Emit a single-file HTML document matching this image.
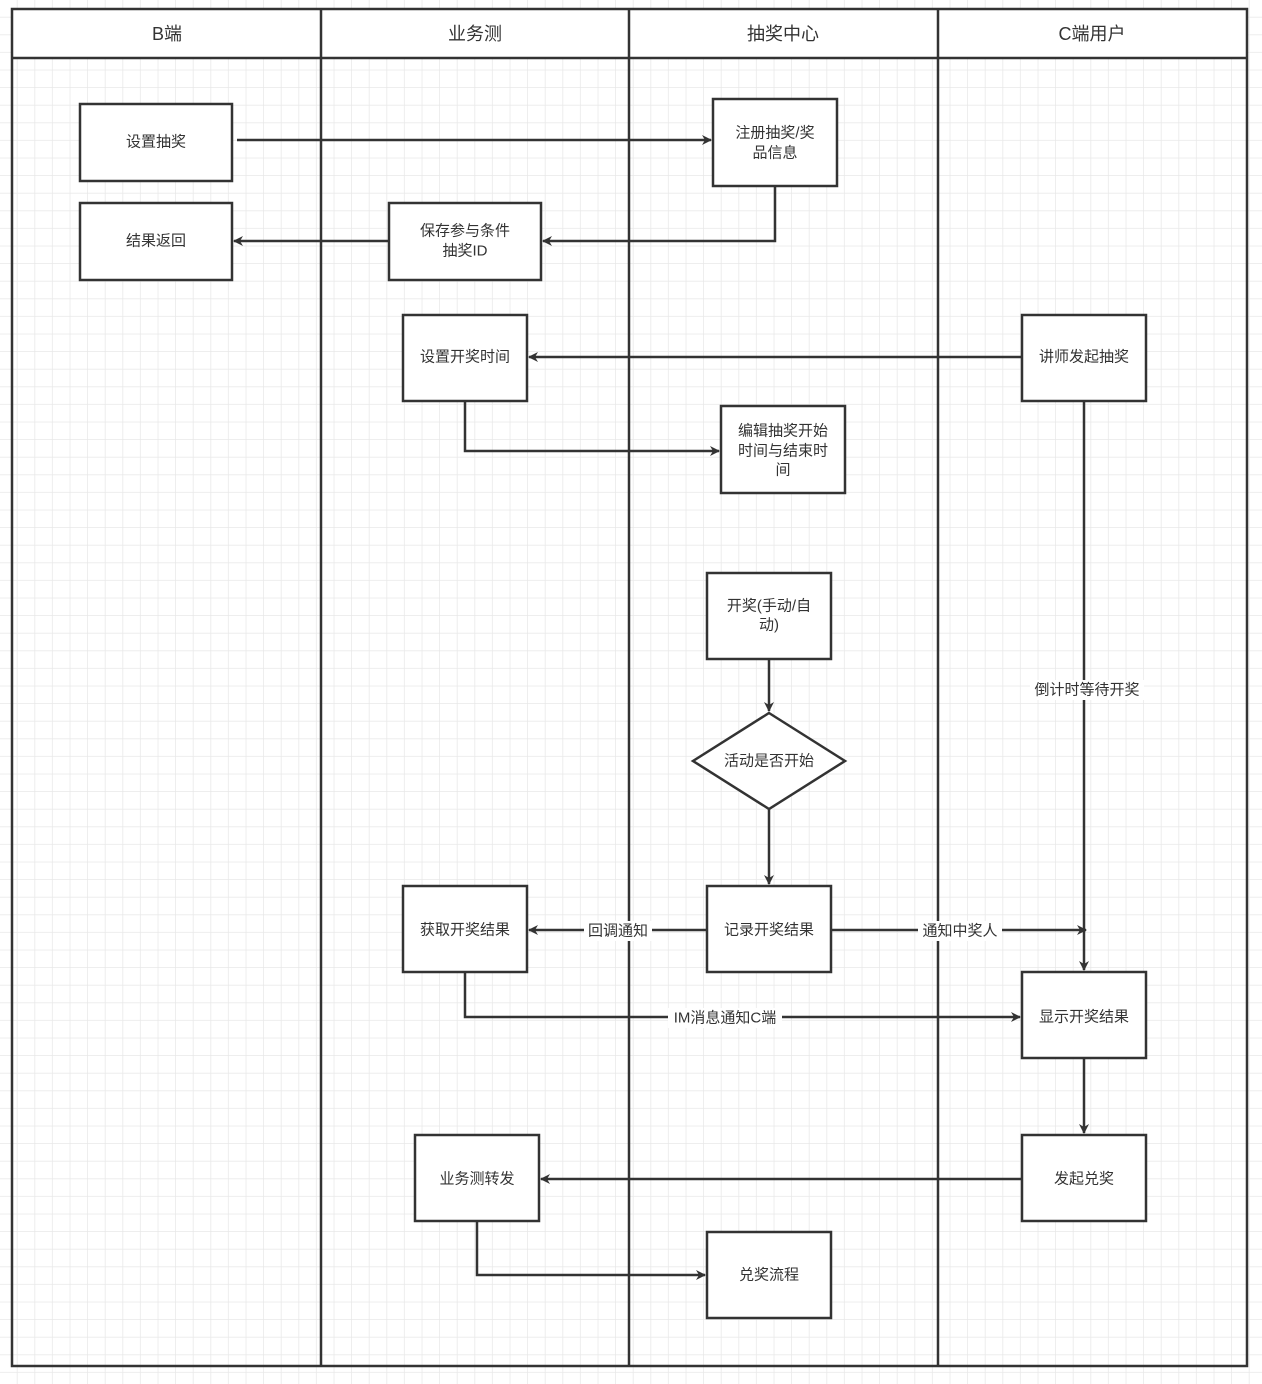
<!DOCTYPE html>
<html><head><meta charset="utf-8"><style>
html,body{margin:0;padding:0;background:#fff}
svg{display:block}
text{font-family:"Liberation Sans","Noto Sans CJK SC",sans-serif;font-size:15px;fill:#333;text-anchor:middle;dominant-baseline:central}
</style></head><body>
<svg width="1262" height="1384" viewBox="0 0 1262 1384" xmlns="http://www.w3.org/2000/svg">
<defs>
<pattern id="g" x="0" y="0" width="17.6" height="17.6" patternUnits="userSpaceOnUse">
<path d="M17.6 0V17.6M0 17.6H17.6" stroke="#e8e8e8" stroke-width="1.5" fill="none"/>
</pattern>
<marker id="a" markerWidth="10" markerHeight="10" refX="9" refY="5" orient="auto" markerUnits="userSpaceOnUse">
<path d="M0,0 L10,5 L0,10 L3,5 Z" fill="#333"/>
</marker>
</defs>
<rect width="1262" height="1384" fill="url(#g)"/>
<rect x="12" y="9" width="1235" height="49" fill="#fff"/>
<g stroke="#333" stroke-width="2.5" fill="none">
<rect x="12" y="9" width="1235" height="1357"/>
<line x1="12" y1="58" x2="1247" y2="58"/>
<line x1="321" y1="9" x2="321" y2="1366"/>
<line x1="629" y1="9" x2="629" y2="1366"/>
<line x1="938" y1="9" x2="938" y2="1366"/>
</g>
<text x="167" y="34" font-size="18" style="font-size:18px">B端</text>
<text x="475" y="34" style="font-size:18px">业务测</text>
<text x="783" y="34" style="font-size:18px">抽奖中心</text>
<text x="1092" y="34" style="font-size:18px">C端用户</text>

<g stroke="#333" stroke-width="2.5" fill="none" marker-end="url(#a)">
<path d="M237 140H711"/>
<path d="M775 186V241H543"/>
<path d="M389 241H234"/>
<path d="M1022 357H529"/>
<path d="M465 401V451H719"/>
<path d="M769 659V711"/>
<path d="M769 809V884"/>
<path d="M1084 401V970"/>
<path d="M707 930H529"/>
<path d="M831 930H1086"/>
<path d="M465 972V1017H1020"/>
<path d="M1084 1058V1133"/>
<path d="M1022 1179H541"/>
<path d="M477 1221V1275H705"/>
</g>

<g stroke="#333" stroke-width="2.5" fill="#fff">
<rect x="80" y="104" width="152" height="77"/>
<rect x="713" y="99" width="124" height="87"/>
<rect x="80" y="203" width="152" height="77"/>
<rect x="389" y="203" width="152" height="77"/>
<rect x="403" y="315" width="124" height="86"/>
<rect x="1022" y="315" width="124" height="86"/>
<rect x="721" y="406" width="124" height="87"/>
<rect x="707" y="573" width="124" height="86"/>
<polygon points="769,713 845,761 769,809 693,761"/>
<rect x="403" y="886" width="124" height="86"/>
<rect x="707" y="886" width="124" height="86"/>
<rect x="1022" y="972" width="124" height="86"/>
<rect x="415" y="1135" width="124" height="86"/>
<rect x="1022" y="1135" width="124" height="86"/>
<rect x="707" y="1232" width="124" height="86"/>
</g>

<text x="156" y="142">设置抽奖</text>
<text x="775" y="133">注册抽奖/奖</text>
<text x="775" y="153">品信息</text>
<text x="156" y="241">结果返回</text>
<text x="465" y="231">保存参与条件</text>
<text x="465" y="251">抽奖ID</text>
<text x="465" y="357">设置开奖时间</text>
<text x="1084" y="357">讲师发起抽奖</text>
<text x="783" y="431">编辑抽奖开始</text>
<text x="783" y="451">时间与结束时</text>
<text x="783" y="470">间</text>
<text x="769" y="606">开奖(手动/自</text>
<text x="769" y="625">动)</text>
<text x="769" y="761">活动是否开始</text>
<text x="465" y="930">获取开奖结果</text>
<text x="769" y="930">记录开奖结果</text>
<text x="1084" y="1017">显示开奖结果</text>
<text x="477" y="1179">业务测转发</text>
<text x="1084" y="1179">发起兑奖</text>
<text x="769" y="1275">兑奖流程</text>

<g fill="#fff">
<rect x="1030" y="680" width="114" height="20"/>
<rect x="584" y="921" width="68" height="20"/>
<rect x="918" y="921" width="84" height="20"/>
<rect x="668" y="1008" width="114" height="20"/>
</g>
<text x="1087" y="690">倒计时等待开奖</text>
<text x="618" y="931">回调通知</text>
<text x="960" y="931">通知中奖人</text>
<text x="725" y="1018">IM消息通知C端</text>
</svg>
</body></html>
